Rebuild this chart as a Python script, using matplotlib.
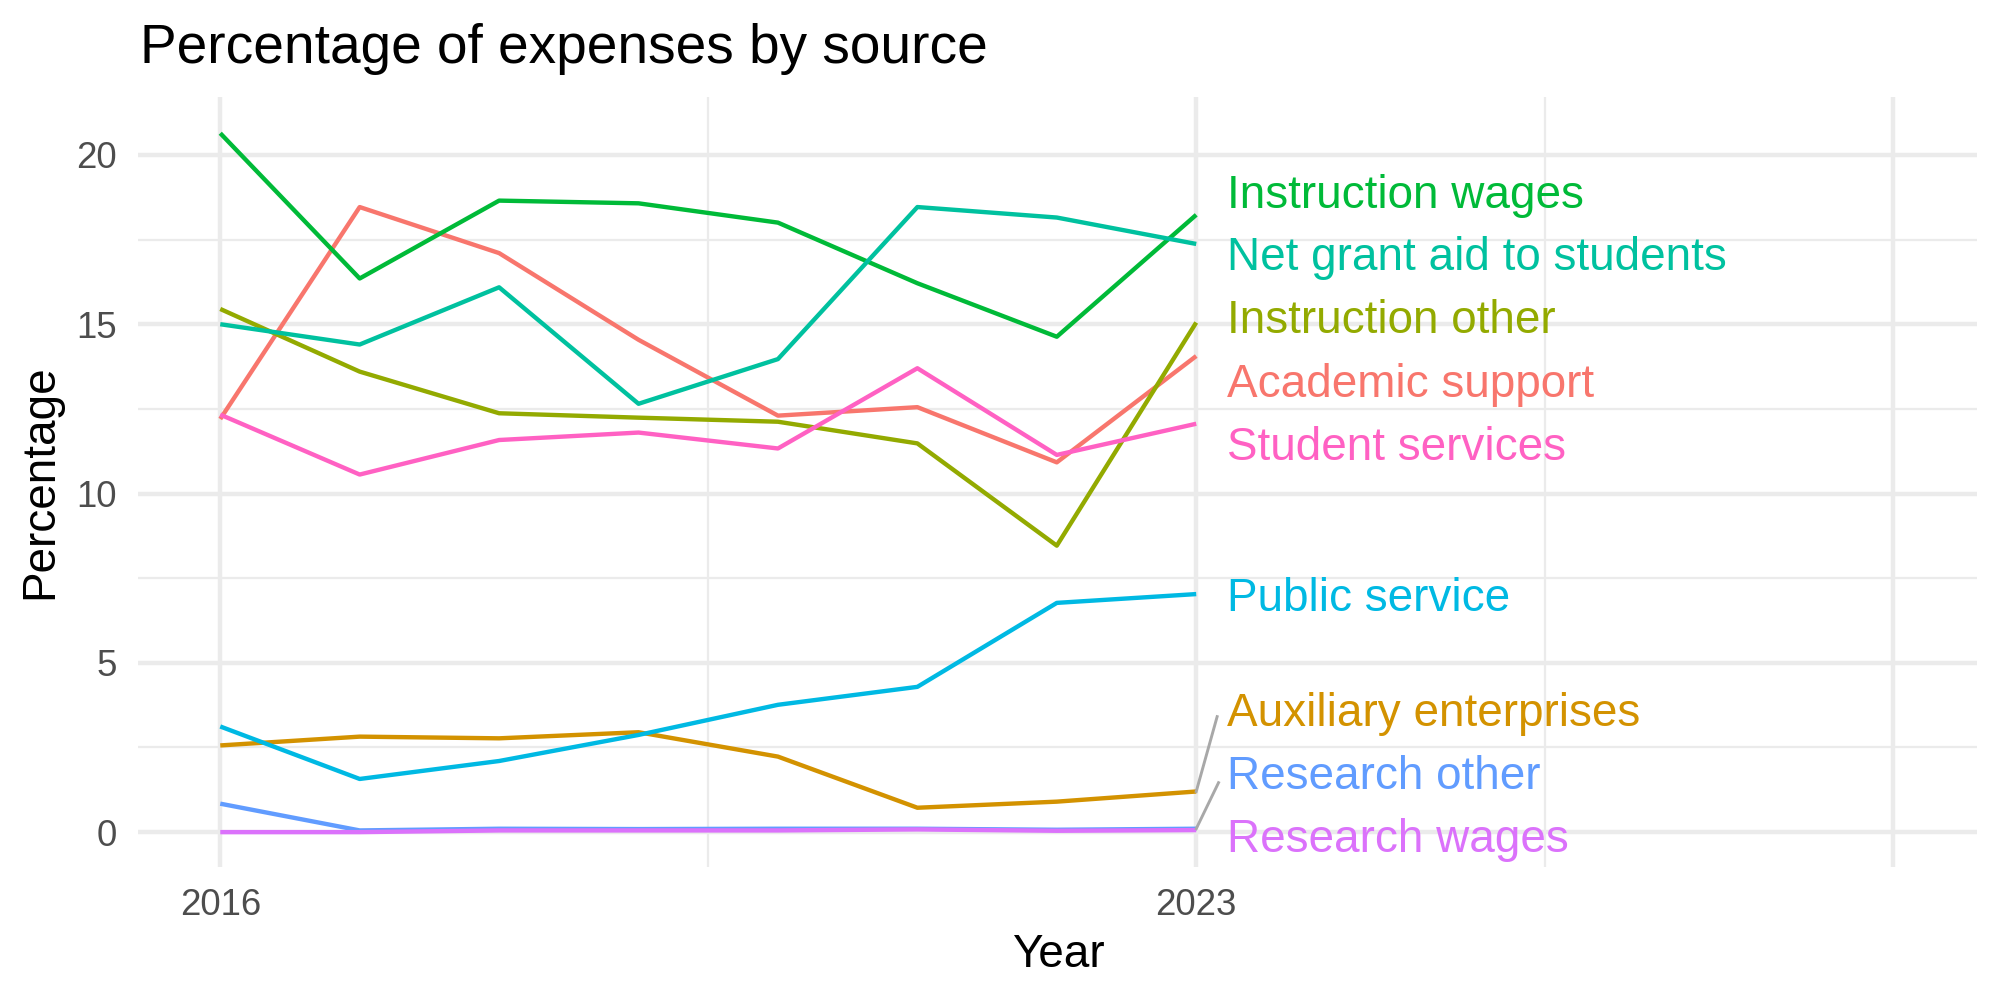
import matplotlib
matplotlib.use("Agg")
import matplotlib.pyplot as plt

plt.rcParams['font.family'] = ['Liberation Sans', 'DejaVu Sans']

years = [2016, 2017, 2018, 2019, 2020, 2021, 2022, 2023]

sources = [
    "Academic support",
    "Auxiliary enterprises",
    "Instruction other",
    "Instruction wages",
    "Net grant aid to students",
    "Public service",
    "Research other",
    "Research wages",
    "Student services",
]

academic_support = [12.2, 18.46, 17.1, 14.54, 12.3, 12.55, 10.92, 14.06]
auxiliary_enterprises = [2.56, 2.82, 2.77, 2.95, 2.23, 0.72, 0.9, 1.2]
instruction_other = [15.45, 13.6, 12.37, 12.24, 12.12, 11.48, 8.46, 15.05]
instruction_wages = [20.64, 16.35, 18.65, 18.57, 18.0, 16.21, 14.63, 18.23]
net_grant_aid = [15.0, 14.4, 16.09, 12.65, 13.97, 18.46, 18.15, 17.37]
public_service = [3.12, 1.57, 2.1, 2.87, 3.76, 4.29, 6.77, 7.03]
research_other = [0.84, 0.05, 0.1, 0.09, 0.1, 0.1, 0.07, 0.1]
research_wages = [0.0, 0.0, 0.05, 0.05, 0.05, 0.08, 0.04, 0.06]
student_services = [12.33, 10.56, 11.58, 11.8, 11.33, 13.7, 11.14, 12.06]

values = [academic_support, auxiliary_enterprises, instruction_other,
          instruction_wages, net_grant_aid, public_service, research_other,
          research_wages, student_services]

colors = ["#F8766D", "#D39200", "#93AA00", "#00BA38", "#00C19F",
          "#00B9E3", "#619CFF", "#DB72FB", "#FF61C3"]

# label baselines (repelled positions) and label x
label_y = [12.86, 3.12, 14.73, 18.43, 16.6, 6.53, 1.28, -0.58, 10.99]
label_x = 2023.22
# segments for labels that were pushed away from their end point
segments = {"Auxiliary enterprises": (2023.15, 3.41),
            "Research other": (2023.16, 1.46)}

fig = plt.figure(figsize=(2000 / 300, 1000 / 300), dpi=300)
ax = fig.add_axes([138 / 2000, 1 - 867 / 1000, (1977 - 138) / 2000, (867 - 97) / 1000])

ax.set_xlim(2015.41, 2028.6)
ax.set_ylim(-1.03, 21.71)

grid = "#EBEBEB"
for y in [2.5, 7.5, 12.5, 17.5]:
    ax.axhline(y, color=grid, lw=0.53, zorder=0)
for y in [0, 5, 10, 15, 20]:
    ax.axhline(y, color=grid, lw=1.07, zorder=0)
for x in [2019.5, 2025.5]:
    ax.axvline(x, color=grid, lw=0.53, zorder=0)
for x in [2016, 2023, 2028]:
    ax.axvline(x, color=grid, lw=1.07, zorder=0)

for name, vals, col in zip(sources, values, colors):
    ax.plot(years, vals, color=col, lw=1.05, solid_capstyle='butt', zorder=2)

for name, vals, col, ly in zip(sources, values, colors, label_y):
    if name in segments:
        sx, sy = segments[name]
        ax.plot([years[-1], sx], [vals[-1], sy], color="#A8A8A8", lw=0.7, zorder=3)
    ax.text(label_x, ly, name, color=col, fontsize=11, ha='left', va='baseline', zorder=4)

for s in ax.spines.values():
    s.set_visible(False)
ax.set_xticks([2016, 2023, 2028])
ax.set_xticklabels(["2016", "2023", ""])
ax.set_yticks([0, 5, 10, 15, 20])
ax.set_yticklabels(["0", "5", "10", "15", "20"])
ax.tick_params(length=0, labelsize=8.8, labelcolor="#4D4D4D", pad=5)

fig.text(140 / 2000, 1 - 63.3 / 1000, "Percentage of expenses by source",
         fontsize=13.2, ha='left', va='baseline')
fig.text(1058 / 2000, 1 - 966.7 / 1000, "Year", fontsize=11, ha='center', va='baseline')
fig.text(40 / 2000, 1 - 482 / 1000, "Percentage", fontsize=11, ha='center', va='center',
         rotation=90)

fig.savefig("out.png", dpi=300, facecolor="white")
